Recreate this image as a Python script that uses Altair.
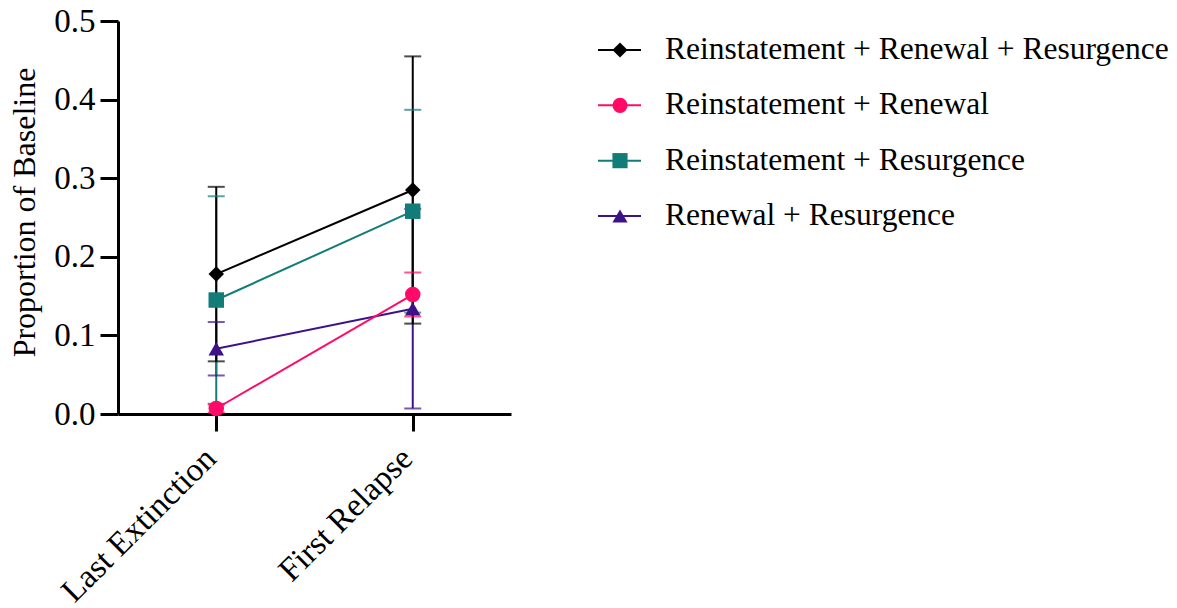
import altair as alt
import pandas as pd

# Sessions on the x axis and the four relapse-test groups
phases = ["Last Extinction", "First Relapse"]
series = [
    "Reinstatement + Renewal + Resurgence",
    "Reinstatement + Renewal",
    "Reinstatement + Resurgence",
    "Renewal + Resurgence",
]
colors = ["#000000", "#FF0A68", "#127C79", "#3D1287"]
shapes = ["diamond", "circle", "square", "triangle-up"]

# Group means (proportion of baseline) and their error (+/- SEM)
mean_last_ext = [0.178, 0.007, 0.145, 0.083]
mean_first_rel = [0.285, 0.152, 0.258, 0.134]
err_last_ext = [0.111, 0.005, 0.132, 0.034]
err_first_rel = [0.170, 0.028, 0.129, 0.127]

FONT = "'Liberation Serif', 'Times New Roman', Times, serif"

rows = []
for i, s in enumerate(series):
    for phase, m, e in ((phases[0], mean_last_ext[i], err_last_ext[i]),
                        (phases[1], mean_first_rel[i], err_first_rel[i])):
        rows.append({"series": s, "phase": phase, "mean": m,
                     "lo": max(m - e, 0.0), "hi": m + e})
df = pd.DataFrame(rows)

# drawing order: error bars with black on top, markers with purple on top
err_order = [series[3], series[1], series[2], series[0]]
pt_order = [series[0], series[2], series[1], series[3]]
df_err = pd.concat([df[df.series == s] for s in err_order])
df_pt = pd.concat([df[df.series == s] for s in pt_order])

color = alt.Color("series:N", scale=alt.Scale(domain=series, range=colors), legend=None)
shape = alt.Shape("series:N", scale=alt.Scale(domain=series, range=shapes), legend=None)

x = alt.X(
    "phase:N", sort=phases,
    scale=alt.Scale(type="point", padding=0.5),
    axis=alt.Axis(title=None, labelAngle=-45, labelAlign="right", labelBaseline="middle",
                  tickSize=17, labelPadding=22, labelOffset=-6, labelLimit=0,
                  labelFontSize=33),
)
y_scale = alt.Scale(domain=[0, 0.5], nice=False, zero=True)
y = alt.Y(
    "mean:Q", scale=y_scale,
    axis=alt.Axis(title="Proportion of Baseline", values=[0, 0.1, 0.2, 0.3, 0.4, 0.5],
                  format=".1f", tickSize=18, labelPadding=5, labelFontSize=33,
                  titlePadding=12, titleY=191),
)

bars = alt.Chart(df_err).mark_rule(strokeWidth=2).encode(
    x=x, y=alt.Y("lo:Q", scale=y_scale), y2="hi:Q", color=color)
caps_lo = alt.Chart(df_err).mark_tick(size=17, thickness=2).encode(
    x=x, y=alt.Y("lo:Q", scale=y_scale), color=color)
caps_hi = alt.Chart(df_err).mark_tick(size=17, thickness=2).encode(
    x=x, y=alt.Y("hi:Q", scale=y_scale), color=color)
lines = alt.Chart(df_err).mark_line(strokeWidth=2).encode(
    x=x, y=y, color=color, detail="series:N")
points = alt.Chart(df_pt).mark_point(filled=True, opacity=1, size=240).encode(
    x=x, y=y, color=color, shape=shape)

main = alt.layer(bars, caps_lo, caps_hi, lines, points).properties(width=393, height=393)

# legend panel: line segment with marker, followed by the group name
leg_df = pd.DataFrame({"series": series})
ly = alt.Y("series:N", sort=series, scale=alt.Scale(type="point", padding=0.525), axis=None)
leg_line = alt.Chart(leg_df).mark_rule(strokeWidth=2).encode(
    y=ly, x=alt.value(0), x2=alt.value(43), color=color)
leg_pt = alt.Chart(leg_df).mark_point(filled=True, opacity=1, size=230).encode(
    y=ly, x=alt.value(22), color=color, shape=shape)
leg_txt = alt.Chart(leg_df).mark_text(
    align="left", baseline="middle", font=FONT, fontSize=31.5, color="black"
).encode(y=ly, x=alt.value(67), text="series:N")
legend = alt.layer(leg_line, leg_pt, leg_txt).properties(width=43, height=224)

chart = (
    alt.hconcat(main, legend, spacing=86)
    .configure_view(stroke=None)
    .configure_axis(
        domainColor="black", domainWidth=3, tickColor="black", tickWidth=3,
        labelFont=FONT, labelColor="black",
        titleFont=FONT, titleFontSize=32, titleFontWeight="normal", titleColor="black",
        grid=False,
    )
    .properties(background="white", padding={"left": 8, "top": 5, "right": 5, "bottom": 0})
)

chart.save("out.html", embed_options={"renderer": "svg", "actions": False})
